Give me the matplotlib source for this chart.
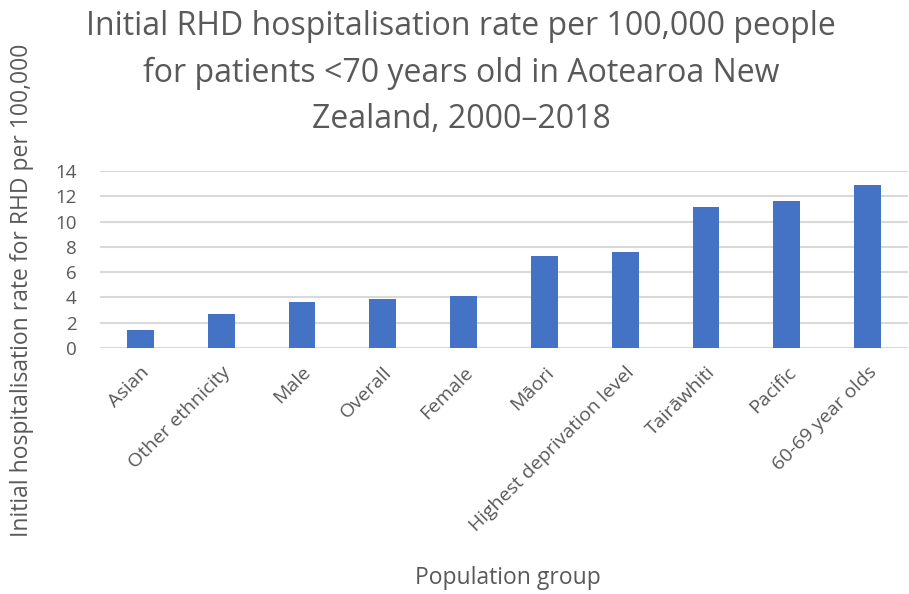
import matplotlib
matplotlib.use('Agg')
import matplotlib.pyplot as plt

# population groups and rates
groups = ['Asian', 'Other ethnicity', 'Male', 'Overall', 'Female', 'Māori',
          'Highest deprivation level', 'Tairāwhiti', 'Pacific', '60-69 year olds']
rates = [1.45, 2.67, 3.67, 3.88, 4.09, 7.29, 7.61, 11.12, 11.6, 12.89]
yticks = [0, 2, 4, 6, 8, 10, 12, 14]

plt.rcParams['font.family'] = ['Open Sans', 'DejaVu Sans']
grey = '#595959'

fig = plt.figure(figsize=(9.09, 5.94), dpi=100)
ax = fig.add_axes([100 / 909, 246 / 594, 808 / 909, 177 / 594])

ax.bar(range(len(groups)), rates, width=0.33, color='#4472C4', zorder=3)

ax.set_ylim(0, 14)
ax.set_xlim(-0.5, len(groups) - 0.5)
ax.set_yticks(yticks)
ax.set_yticklabels([str(t) for t in yticks], fontsize=13.5, color=grey)
ax.set_xticks(range(len(groups)))
ax.set_xticklabels(groups, rotation=45, ha='right', rotation_mode='anchor',
                   fontsize=14, color=grey)
ax.tick_params(axis='y', length=0, pad=17)
ax.tick_params(axis='x', length=0, pad=11)
ax.grid(axis='y', color='#d9d9d9', linewidth=1.5, zorder=0)
for s in ax.spines.values():
    s.set_visible(False)

fig.text(461 / 909, 1 - 10 / 594, 'Initial RHD hospitalisation rate per 100,000 people\n'
         'for patients <70 years old in Aotearoa New\nZealand, 2000–2018',
         ha='center', va='top', fontsize=23, color=grey, linespacing=1.53)
fig.text(22 / 909, 1 - 290 / 594, 'Initial hospitalisation rate for RHD per 100,000',
         rotation=90, ha='center', va='center', fontsize=16.5, color=grey)
fig.text(508 / 909, 1 - 578 / 594, 'Population group', ha='center', va='center',
         fontsize=16.5, color=grey)

fig.savefig('out.png', dpi=100, facecolor='white')
